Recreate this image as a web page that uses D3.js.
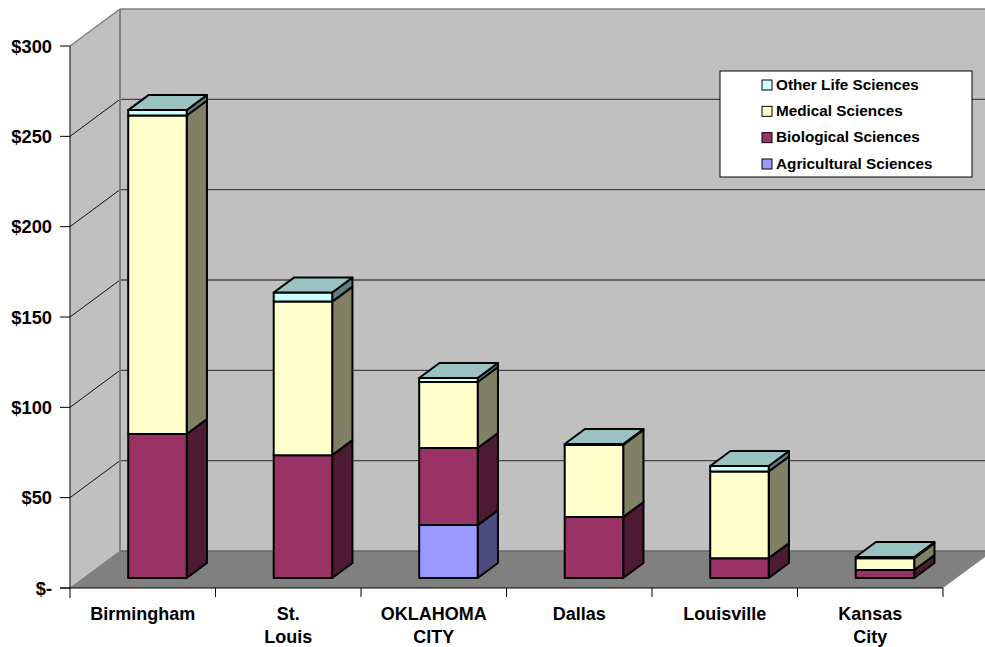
<!DOCTYPE html>
<html>
<head>
<meta charset="utf-8">
<script src="https://cdn.jsdelivr.net/npm/d3@7"></script>
<style>
html,body{margin:0;padding:0;background:#fff;overflow:hidden}
text{font-family:"Liberation Sans",Arial,sans-serif;font-weight:bold;fill:#000}
</style>
</head>
<body>
<svg id="chart" width="985" height="647"></svg>
<script>
const categories = ["Birmingham", "St. Louis", "OKLAHOMA CITY", "Dallas", "Louisville", "Kansas City"];
const categoryLines = [["Birmingham"], ["St.", "Louis"], ["OKLAHOMA", "CITY"], ["Dallas"], ["Louisville"], ["Kansas", "City"]];
const seriesNames = ["Agricultural Sciences", "Biological Sciences", "Medical Sciences", "Other Life Sciences"];
const agricultural = [0, 0, 29.3, 0, 0, 0];
const biological = [79.7, 68, 42.7, 33.8, 11, 4.4];
const medical = [176.3, 85, 36.5, 39.8, 48, 6.6];
const other = [3, 5, 2.2, 0.6, 3, 0.6];
const seriesValues = [agricultural, biological, medical, other];
const tickValues = [0, 50, 100, 150, 200, 250, 300];
const tickLabels = ["$-", "$50", "$100", "$150", "$200", "$250", "$300"];

const frontColors = ["#9999FF", "#993366", "#FFFFCC", "#CCFFFF"];
const sideColors = ["#4C4C80", "#4C1A33", "#808066", "#668080"];
const capColor = "#99C2C0";
const wallColor = "#C0C0C0";
const floorColor = "#808080";

const svg = d3.select("#chart");
const x = d3.scaleBand().domain(categories).range([70, 943]);
const y = d3.scaleLinear().domain([0, 300]).range([588, 46]);

// Oblique projection of the chart's depth axis (0 = front edge, 1 = back wall).
const depthX = d3.scaleLinear().domain([0, 1]).range([0, 50]);
const depthY = d3.scaleLinear().domain([0, 1]).range([0, -37]);
const pt = (px, value, depth) => [px + depthX(depth), y(value) + depthY(depth)];
const poly = pts => "M" + pts.map(p => p.join(",")).join("L") + "Z";

const xMin = 70, xMax = 943;

// Back wall, side wall and floor
svg.append("path").attr("fill", wallColor)
  .attr("d", poly([pt(xMin, 300, 1), pt(xMax, 300, 1), pt(xMax, 0, 1), pt(xMin, 0, 1)]));
svg.append("path").attr("fill", wallColor)
  .attr("d", poly([pt(xMin, 300, 0), pt(xMin, 300, 1), pt(xMin, 0, 1), pt(xMin, 0, 0)]));
svg.append("path").attr("fill", floorColor)
  .attr("d", poly([pt(xMin, 0, 0), pt(xMin, 0, 1), pt(xMax, 0, 1), pt(xMax, 0, 0)]));

// Gridlines: diagonal on the side wall, horizontal on the back wall
tickValues.forEach(v => {
  const top = v === 300;
  const base = v === 0;
  svg.append("line")
    .attr("x1", pt(xMin, v, 0)[0]).attr("y1", pt(xMin, v, 0)[1])
    .attr("x2", pt(xMin, v, 1)[0]).attr("y2", pt(xMin, v, 1)[1])
    .attr("stroke", top || base ? "#808080" : "#111").attr("stroke-width", top ? 1.5 : 1);
  svg.append("line")
    .attr("x1", pt(xMin, v, 1)[0]).attr("y1", pt(xMin, v, 1)[1])
    .attr("x2", pt(xMax, v, 1)[0]).attr("y2", pt(xMax, v, 1)[1])
    .attr("stroke", top ? "#808080" : base ? "#666" : "#444").attr("stroke-width", top ? 1.5 : 1.3);
});
svg.append("line")
  .attr("x1", pt(xMin, 300, 1)[0]).attr("y1", pt(xMin, 300, 1)[1])
  .attr("x2", pt(xMin, 0, 1)[0]).attr("y2", pt(xMin, 0, 1)[1])
  .attr("stroke", "#808080").attr("stroke-width", 2);

// Stacked columns
const barWidth = 58.5;
const barDepthStart = 0.27;
const barDepthEnd = 0.675;
const barNudge = 1.2;
const stackedRows = categories.map((c, i) => {
  const row = { category: c };
  seriesNames.forEach((s, k) => { row[s] = seriesValues[k][i]; });
  return row;
});
const stacks = d3.stack().keys(seriesNames)(stackedRows);
const barStroke = { stroke: "#000", "stroke-width": 2, "stroke-linejoin": "round" };

categories.forEach((c, i) => {
  const left = x(c) + x.bandwidth() / 2 - barWidth / 2 + barNudge;
  const right = left + barWidth;
  const g = svg.append("g").attr("class", "column");
  stacks.forEach((layer, k) => {
    const [v0, v1] = layer[i];
    if (v1 <= v0) return;
    const draw = (d, fill) => {
      const p = g.append("path").attr("d", d).attr("fill", fill);
      Object.entries(barStroke).forEach(([a, b]) => p.attr(a, b));
    };
    draw(poly([pt(right, v0, barDepthStart), pt(right, v1, barDepthStart), pt(right, v1, barDepthEnd), pt(right, v0, barDepthEnd)]), sideColors[k]);
    draw(poly([pt(left, v0, barDepthStart), pt(right, v0, barDepthStart), pt(right, v1, barDepthStart), pt(left, v1, barDepthStart)]), frontColors[k]);
    if (k === stacks.length - 1) {
      draw(poly([pt(left, v1, barDepthStart), pt(right, v1, barDepthStart), pt(right, v1, barDepthEnd), pt(left, v1, barDepthEnd)]), capColor);
    }
  });
});

// Value axis
const axisG = svg.append("g");
axisG.append("line").attr("x1", xMin).attr("x2", xMin).attr("y1", y(300)).attr("y2", y(0) + 10).attr("stroke", "#000");
tickValues.forEach((v, i) => {
  axisG.append("line").attr("x1", xMin - 10).attr("x2", xMin).attr("y1", y(v)).attr("y2", y(v)).attr("stroke", "#000");
  axisG.append("text").attr("x", 52).attr("y", y(v)).attr("dy", "0.36em")
    .attr("text-anchor", "end").attr("font-size", 18.3).text(tickLabels[i]);
});

// Category axis
axisG.append("line").attr("x1", xMin - 10).attr("x2", xMax).attr("y1", y(0)).attr("y2", y(0)).attr("stroke", "#000");
categories.forEach((c, i) => {
  const t = x(c);
  axisG.append("line").attr("x1", t + x.bandwidth()).attr("x2", t + x.bandwidth())
    .attr("y1", y(0)).attr("y2", y(0) + 9).attr("stroke", "#000");
  const label = axisG.append("text").attr("text-anchor", "middle").attr("font-size", 18);
  categoryLines[i].forEach((line, n) => {
    label.append("tspan").attr("x", t + x.bandwidth() / 2).attr("y", 620 + n * 23).text(line);
  });
});

// Legend
const legendEntries = seriesNames.map((s, k) => ({ name: s, color: frontColors[k] })).reverse();
const legend = svg.append("g");
legend.append("rect").attr("x", 720).attr("y", 71).attr("width", 252).attr("height", 106)
  .attr("fill", "#fff").attr("stroke", "#000").attr("stroke-width", 1);
const legendY = d3.scalePoint().domain(legendEntries.map(d => d.name)).range([85, 164]);
legendEntries.forEach(d => {
  legend.append("rect").attr("x", 762).attr("y", legendY(d.name) - 5).attr("width", 10).attr("height", 10)
    .attr("fill", d.color).attr("stroke", "#000").attr("stroke-width", 1);
  legend.append("text").attr("x", 776).attr("y", legendY(d.name)).attr("dy", "0.3em")
    .attr("font-size", 15.3).text(d.name);
});
</script>
</body>
</html>
